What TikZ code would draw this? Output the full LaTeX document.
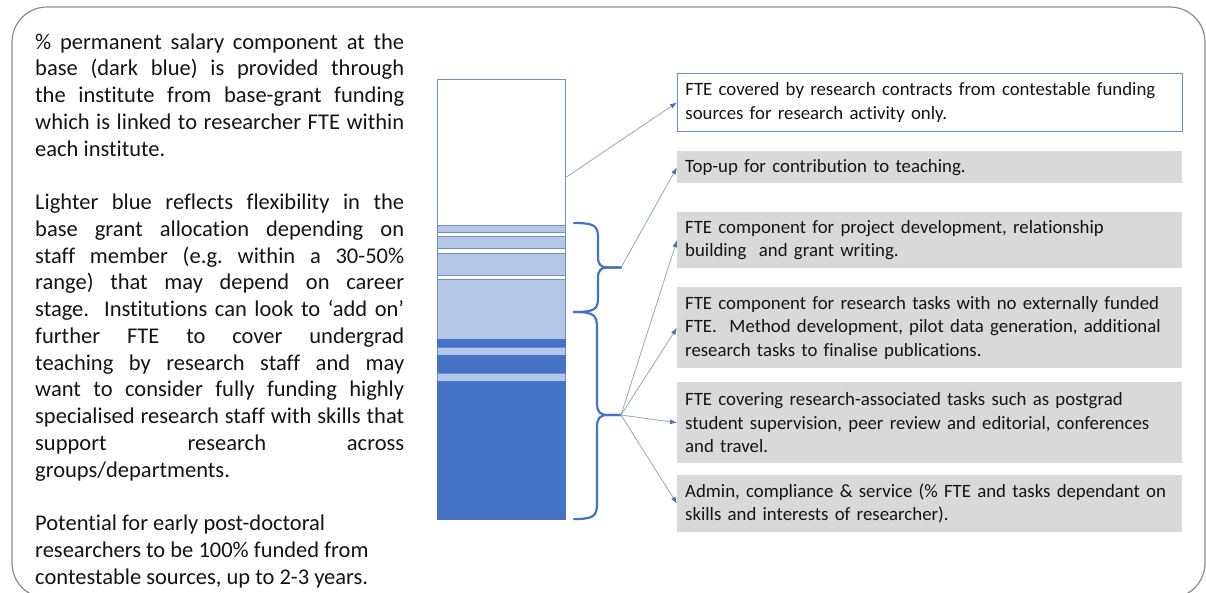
\documentclass[tikz,border=0pt]{standalone}
\usepackage{fontspec}
\setmainfont{Carlito}[Ligatures=NoCommon]
\usetikzlibrary{arrows.meta}
\definecolor{darkbar}{HTML}{4472C4}
\definecolor{lightbar}{HTML}{B4C7E7}
\definecolor{barline}{HTML}{6F8FCB}
\definecolor{boxgray}{HTML}{D9D9D9}
\definecolor{framegray}{HTML}{8C8C8C}
\definecolor{arrowgray}{HTML}{9AA6BC}
\definecolor{txt}{HTML}{141414}
\hyphenpenalty=10000
\exhyphenpenalty=10000
\frenchspacing
\begin{document}
\begin{tikzpicture}[x=1pt,y=-1pt,
  infobox/.style={anchor=north west, inner xsep=8pt, inner ysep=0pt, text width=489pt, align=left, font=\fontsize{18.8}{23.3}\selectfont, text=txt},
  graybox/.style={infobox, fill=boxgray},
  whitebox/.style={infobox, fill=white, draw=barline, line width=0.8pt},
  lefttext/.style={anchor=base west, text width=369pt, inner sep=0pt, align=justify, font=\fontsize{22.5}{26.75}\selectfont, text=txt},
  lightstripe/.style={fill=lightbar, draw=barline, line width=0.6pt},
  darkstripe/.style={fill=darkbar, draw=darkbar, line width=0.6pt},
  bracepath/.style={draw=darkbar, line width=2.2pt, line cap=round},
  pointer/.style={draw=arrowgray, line width=0.8pt, -{Latex[length=7pt,width=5pt,color=darkbar]}}
]
\useasboundingbox (0,0) rectangle (1206,592);
\fill[white] (0,0) rectangle (1206,592);
% outer frame
\draw[framegray, line width=1.2pt, rounded corners=35pt] (12,7) rectangle (1205,598);

% left text
\node[lefttext] (para) at (35,49) {\% permanent salary component at the\linebreak
base (dark blue) is provided through\linebreak
the institute from base-grant funding\linebreak
which is linked to researcher FTE within\linebreak
each institute.\par\vspace{26.75pt}
Lighter blue reflects flexibility in the\linebreak
base grant allocation depending on\linebreak
staff member (e.g. within a 30-50\%\linebreak
range) that may depend on career\linebreak
stage.\ \ Institutions can look to ‘add on’\linebreak
further FTE to cover undergrad\linebreak
teaching by research staff and may\linebreak
want to consider fully funding highly\linebreak
specialised research staff with skills that\linebreak
support research across\linebreak
groups/departments.\par\vspace{26.75pt}
Potential for early post-doctoral\\
researchers to be 100\% funded from\\
contestable sources, up to 2-3 years.};

% bar
\draw[barline, line width=0.8pt, fill=white] (437,79) rectangle (565,519);
\path[lightstripe] (437,225) rectangle (565,232);
\path[lightstripe] (437,236) rectangle (565,248);
\path[lightstripe] (437,253) rectangle (565,275);
\path[lightstripe] (437,279) rectangle (565,339);
\path[darkstripe] (437,339) rectangle (565,347);
\path[lightstripe] (437,347) rectangle (565,355);
\path[darkstripe] (437,355) rectangle (565,373);
\path[lightstripe] (437,373) rectangle (565,381);
\path[darkstripe] (437,381) rectangle (565,519);

% braces
\draw[bracepath] (574,223) .. controls (595,223) and (598,226) .. (598,238) -- (598,257) .. controls (598,265) and (601,267.5) .. (608,267.5) -- (621,267.5);
\draw[bracepath] (621,267.5) -- (608,267.5) .. controls (601,267.5) and (598,270) .. (598,278) -- (598,298) .. controls (598,309) and (595,312) .. (574,312);
\draw[bracepath] (574,312) .. controls (594,312) and (597,315) .. (597,328) -- (597,403) .. controls (597,412) and (600,415) .. (608,415) -- (621,415);
\draw[bracepath] (621,415) -- (608,415) .. controls (600,415) and (597,418) .. (597,427) -- (597,503) .. controls (597,516) and (594,519) .. (574,519);

\coordinate (barpt) at (565,178);
\coordinate (tipA) at (621,267.5);
\coordinate (tipB) at (621,415);

% boxes
\node[whitebox, minimum height=58pt] (b1) at (677,73) {FTE covered by research contracts from contestable funding\\ sources for research activity only.};
\node[graybox, minimum height=32pt] (b2) at (677,151) {Top-up for contribution to teaching.};
\node[graybox, minimum height=56pt] (b3) at (677,212) {FTE component for project development, relationship\\ building\ \ and grant writing.};
\node[graybox, minimum height=81pt] (b4) at (677,287) {FTE component for research tasks with no externally funded\\ FTE.\ \ Method development, pilot data generation, additional\\ research tasks to finalise publications.};
\node[graybox, minimum height=81pt] (b5) at (677,382) {FTE covering research-associated tasks such as postgrad\\ student supervision, peer review and editorial, conferences\\ and travel.};
\node[graybox, minimum height=57pt] (b6) at (677,475) {Admin, compliance \& service (\% FTE and tasks dependant on\\ skills and interests of researcher).};

% pointers
\draw[pointer] (barpt) -- (b1.west);
\draw[pointer] (tipA) -- (b2.west);
\draw[pointer] (tipB) -- (b3.west);
\draw[pointer] (tipB) -- (b4.west);
\draw[pointer] (tipB) -- (b5.west);
\draw[pointer] (tipB) -- (b6.west);
\end{tikzpicture}
\end{document}
